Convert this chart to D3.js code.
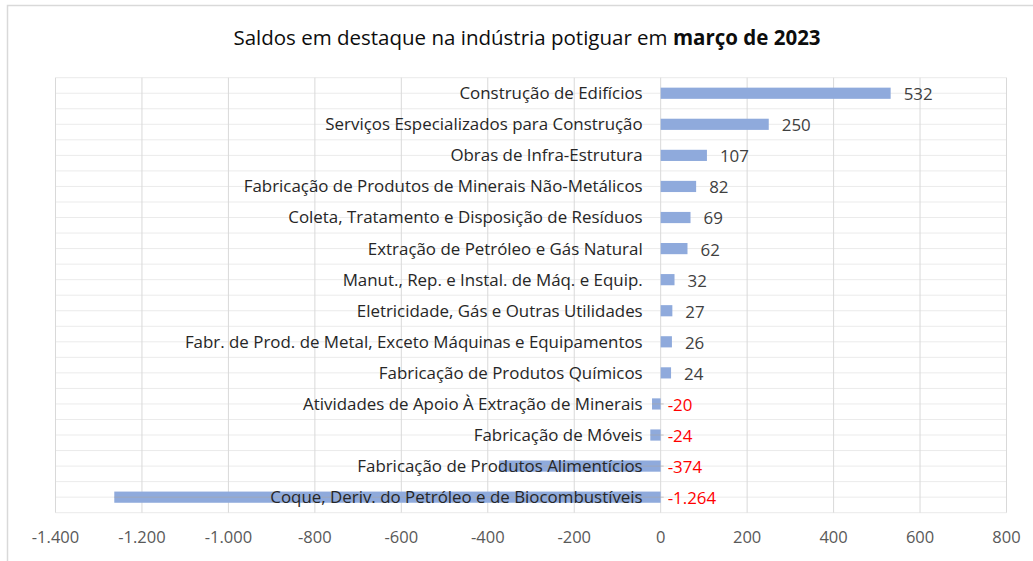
<!DOCTYPE html>
<html>
<head>
<meta charset="utf-8">
<script src="https://cdn.jsdelivr.net/npm/d3@7"></script>
<style>
  body { margin: 0; background: #fff; }
  text { font-family: "Open Sans", sans-serif; }
</style>
</head>
<body>
<script>
// data
const categories = [
  "Construção de Edifícios",
  "Serviços Especializados para Construção",
  "Obras de Infra-Estrutura",
  "Fabricação de Produtos de Minerais Não-Metálicos",
  "Coleta, Tratamento e Disposição de Resíduos",
  "Extração de Petróleo e Gás Natural",
  "Manut., Rep. e Instal. de Máq. e Equip.",
  "Eletricidade, Gás e Outras Utilidades",
  "Fabr. de Prod. de Metal, Exceto Máquinas e Equipamentos",
  "Fabricação de Produtos Químicos",
  "Atividades de Apoio À Extração de Minerais",
  "Fabricação de Móveis",
  "Fabricação de Produtos Alimentícios",
  "Coque, Deriv. do Petróleo e de Biocombustíveis"
];
const saldos = [532, 250, 107, 82, 69, 62, 32, 27, 26, 24, -20, -24, -374, -1264];
const xTicks = [-1400, -1200, -1000, -800, -600, -400, -200, 0, 200, 400, 600, 800];

const width = 1033, height = 561;
const fmt = d3.formatLocale({decimal: ",", thousands: ".", grouping: [3], currency: ["R$", ""], minus: "-"}).format(",d");

const svg = d3.select("body").append("svg")
  .attr("width", width)
  .attr("height", height);

// chart border (runs off right and bottom)
svg.append("rect")
  .attr("x", 7.5).attr("y", 5.5)
  .attr("width", 1100).attr("height", 700)
  .attr("fill", "none")
  .attr("stroke", "#d9d9d9")
  .attr("stroke-width", 1.5);

const x = d3.scaleLinear().domain([-1400, 800]).range([55.5, 1006.5]);
const y = d3.scaleBand().domain(categories).range([77.7, 512.7])
  .paddingInner(0.64).paddingOuter(0.32);

// horizontal grid: band edges and centres
const step = y.step();
const hLines = d3.range(0, categories.length * 2 + 1).map(i => 77.7 + i * step / 2);
svg.append("g").selectAll("line")
  .data(hLines)
  .enter()
  .append("line")
  .attr("x1", x(-1400)).attr("x2", x(800))
  .attr("y1", d => d).attr("y2", d => d)
  .attr("stroke", "#ebebeb")
  .attr("stroke-width", 1);

// vertical grid
svg.append("g").selectAll("line")
  .data(xTicks)
  .enter()
  .append("line")
  .attr("x1", d => x(d)).attr("x2", d => x(d))
  .attr("y1", 77.7).attr("y2", 512.7)
  .attr("stroke", "#d9d9d9")
  .attr("stroke-width", 1);

// bars
svg.append("g").selectAll("rect")
  .data(saldos)
  .enter()
  .append("rect")
  .attr("x", d => x(Math.min(0, d)))
  .attr("y", (d, i) => y(categories[i]))
  .attr("width", d => Math.abs(x(d) - x(0)))
  .attr("height", y.bandwidth())
  .attr("fill", "#8faadc");

// faint centre line over negative bars
svg.append("g").selectAll("line")
  .data(saldos.map((d, i) => [d, categories[i]]).filter(p => p[0] < 0))
  .enter()
  .append("line")
  .attr("x1", p => x(p[0])).attr("x2", x(0) + 3)
  .attr("y1", p => y(p[1]) + y.bandwidth() / 2)
  .attr("y2", p => y(p[1]) + y.bandwidth() / 2)
  .attr("stroke", "#a6a6a6")
  .attr("stroke-opacity", 0.6);

// category labels
svg.append("g").selectAll("text")
  .data(categories)
  .enter()
  .append("text")
  .attr("x", x(0) - 18)
  .attr("y", d => y(d) + y.bandwidth() / 2)
  .attr("dy", "0.35em")
  .attr("text-anchor", "end")
  .attr("font-size", 16.9)
  .attr("fill", "#262626")
  .text(d => d);

// value labels
svg.append("g").selectAll("text")
  .data(saldos)
  .enter()
  .append("text")
  .attr("x", d => d >= 0 ? x(d) + 13 : x(0) + 7)
  .attr("y", (d, i) => y(categories[i]) + y.bandwidth() / 2 + 1)
  .attr("dy", "0.35em")
  .attr("font-size", 16.9)
  .attr("fill", d => d >= 0 ? "#404040" : "#ff0000")
  .text(d => fmt(d));

// x tick labels
svg.append("g").selectAll("text")
  .data(xTicks)
  .enter()
  .append("text")
  .attr("x", d => x(d))
  .attr("y", 537)
  .attr("dy", "0.35em")
  .attr("text-anchor", "middle")
  .attr("font-size", 16.5)
  .attr("fill", "#595959")
  .text(d => fmt(d));

// title
const title = svg.append("text")
  .attr("x", 527)
  .attr("y", 45)
  .attr("text-anchor", "middle")
  .attr("font-size", 20.5)
  .attr("fill", "#0d0d0d");
title.append("tspan").text("Saldos em destaque na indústria potiguar em ");
title.append("tspan").attr("font-weight", "bold").text("março de 2023");
</script>
</body>
</html>
